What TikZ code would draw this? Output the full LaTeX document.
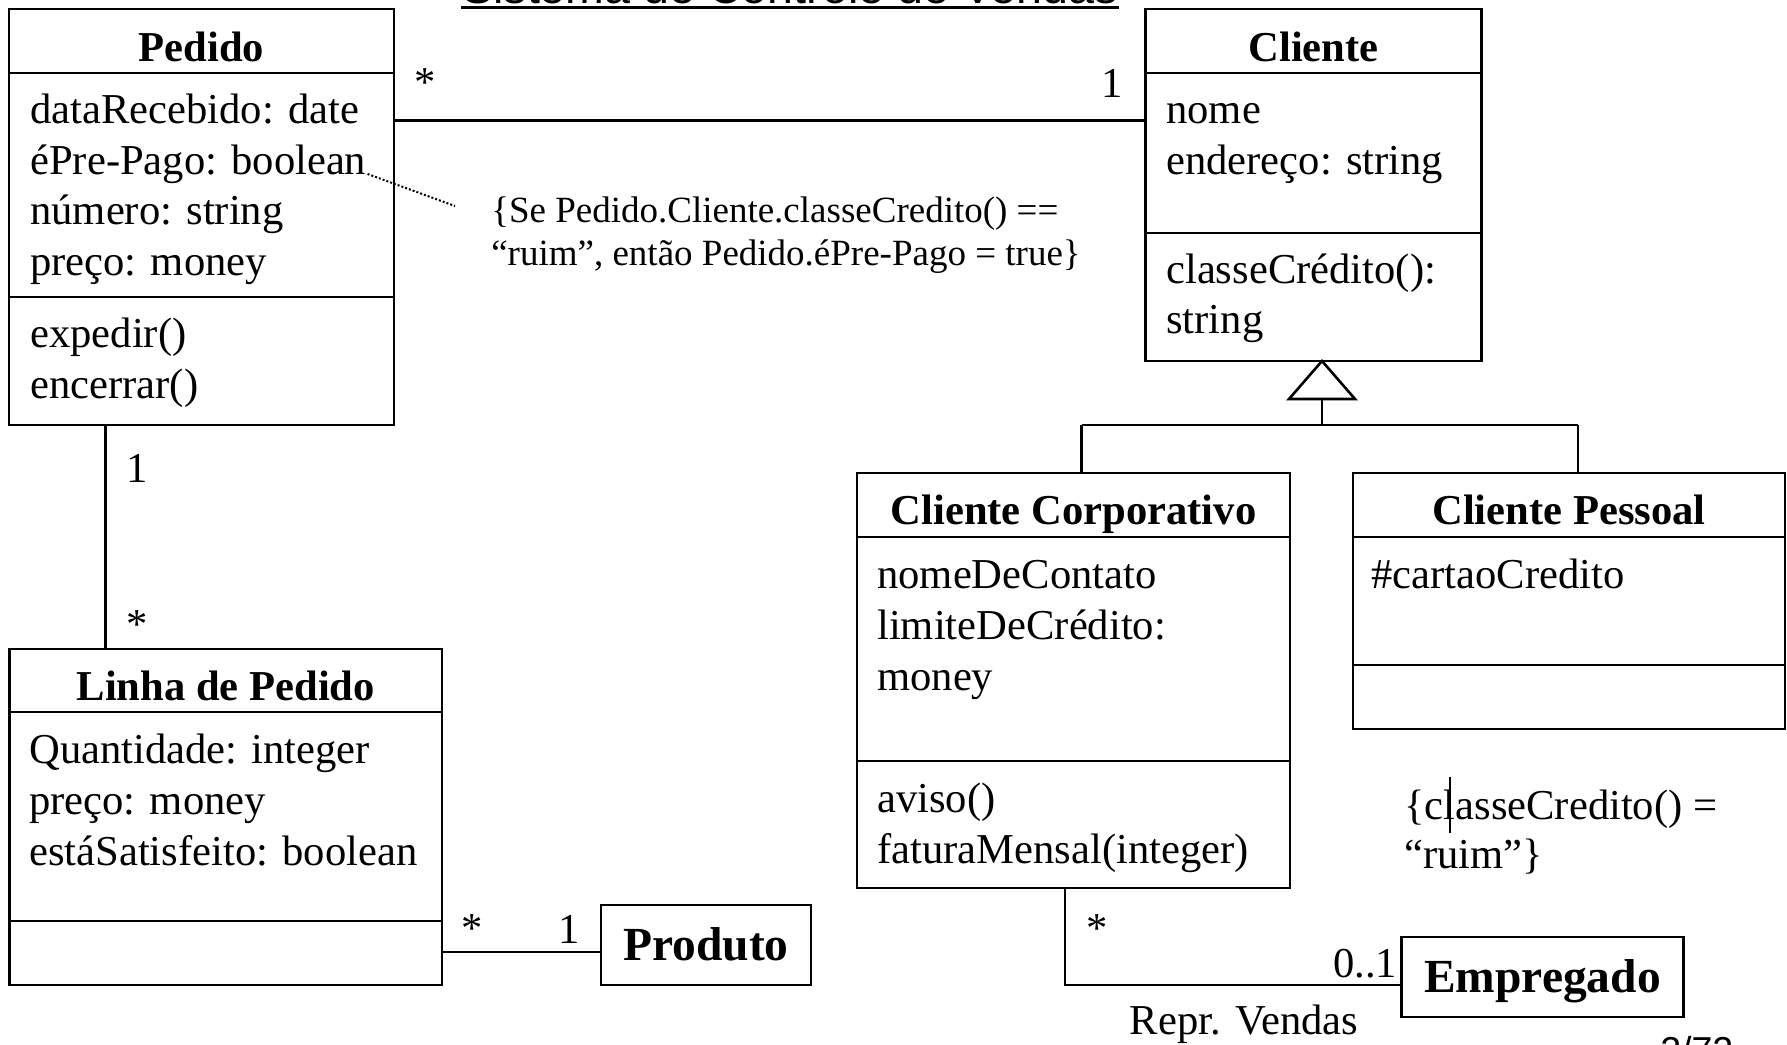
\documentclass[tikz,border=0pt]{standalone}
\usepackage{fontspec}
\setmainfont{Liberation Serif}
\newfontfamily\sansfam{Liberation Sans}
\usepackage{tikz}
\usetikzlibrary{calc}

\tikzset{
  classbox/.style={draw, rectangle, inner sep=0pt, outer sep=0pt},
  cname/.style={anchor=base, inner sep=0pt, font=\fontsize{42.6}{51}\selectfont\bfseries},
  bigname/.style={anchor=base, inner sep=0pt, font=\fontsize{47.5}{57}\selectfont\bfseries},
  attr/.style={anchor=base west, inner sep=0pt, font=\fontsize{42.6}{51}\selectfont},
  mult/.style={anchor=base, inner sep=0pt, font=\fontsize{42.6}{51}\selectfont},
  notetext/.style={anchor=base west, inner sep=0pt, font=\fontsize{37}{44}\selectfont},
}

\begin{document}
\begin{tikzpicture}[x=1pt,y=-1pt,line width=2.6pt]
	\useasboundingbox (0,0) rectangle (1787,1044);
	\fill[white] (0,0) rectangle (1787,1044);
	\clip (0,0) rectangle (1787,1044);
	% titulo
	\node[anchor=base, inner sep=0pt, font=\sansfam\fontsize{46.6}{56}\selectfont] (titulo) at (790,3.5) {Sistema de Controle de Vendas};
	\draw[line width=3.5pt] ($(titulo.base west)+(0,4.2)$) -- ($(titulo.base east)+(0,4.2)$);
	% Pedido
	\node[classbox, minimum width=385, minimum height=416] (pedido) at (201.5,217) {};
	\draw (9,73) -- (394,73);
	\draw (9,297) -- (394,297);
	\node[cname] (ped-n) at (201.5,61) {Pedido};
	\node[attr] (ped-a1) at (29,123.5) {dataRecebido: date};
	\node[attr] (ped-a2) at (29,174) {éPre-Pago: boolean};
	\node[attr] (ped-a3) at (29,224.5) {número: string};
	\node[attr] (ped-a4) at (29,275) {preço: money};
	\node[attr] (ped-m1) at (29,347) {expedir()};
	\node[attr] (ped-m2) at (29,398) {encerrar()};
	% Cliente
	\node[classbox, minimum width=336, minimum height=352] (cliente) at (1313.5,185) {};
	\draw (1145.5,73) -- (1481.5,73);
	\draw (1145.5,233) -- (1481.5,233);
	\node[cname] (cli-n) at (1313.5,61) {Cliente};
	\node[attr] (cli-a1) at (1165,123.5) {nome};
	\node[attr] (cli-a2) at (1165,174) {endereço: string};
	\node[attr] (cli-m1) at (1165,283) {classeCrédito():};
	\node[attr] (cli-m2) at (1165,333.5) {string};
	% Cliente Corporativo
	\node[classbox, minimum width=433, minimum height=415] (corp) at (1073.5,680.5) {};
	\draw (857,537) -- (1290,537);
	\draw (857,761) -- (1290,761);
	\node[cname] (corp-n) at (1073.5,524) {Cliente Corporativo};
	\node[attr] (corp-a1) at (876,588) {nomeDeContato};
	\node[attr] (corp-a2) at (876,639) {limiteDeCrédito:};
	\node[attr] (corp-a3) at (876,690) {money};
	\node[attr] (corp-m1) at (876,812) {aviso()};
	\node[attr] (corp-m2) at (876,863) {faturaMensal(integer)};
	% Cliente Pessoal
	\node[classbox, minimum width=432, minimum height=256] (pessoal) at (1569,601) {};
	\draw (1353,537) -- (1785,537);
	\draw (1353,665) -- (1785,665);
	\node[cname] (pes-n) at (1569,524) {Cliente Pessoal};
	\node[attr] (pes-a1) at (1370,588) {\#cartaoCredito};
	% Linha de Pedido
	\node[classbox, minimum width=432.5, minimum height=336] (linha) at (225.75,817) {};
	\draw (9.5,712) -- (442,712);
	\draw (9.5,921) -- (442,921);
	\node[cname] (lin-n) at (225.75,700) {Linha de Pedido};
	\node[attr] (lin-a1) at (28,763) {Quantidade: integer};
	\node[attr] (lin-a2) at (28,814) {preço: money};
	\node[attr] (lin-a3) at (28,865) {estáSatisfeito: boolean};
	% Produto e Empregado
	\node[classbox, minimum width=210, minimum height=80] (produto) at (706,945) {};
	\node[bigname] (prod-n) at (706,960) {Produto};
	\node[classbox, minimum width=282, minimum height=80] (empregado) at (1542.5,977) {};
	\node[bigname] (emp-n) at (1542.5,992) {Empregado};
	% associacoes
	\coordinate (pc) at (700,120.5);
	\draw (pedido.east |- pc) -- (cliente.west |- pc);
	\node[mult] (m-pc1) at (425,96) {*};
	\node[mult] (m-pc2) at (1112.5,97) {1};
	\coordinate (pl) at (105.5,500);
	\draw (pl |- pedido.south) -- (pl |- linha.north);
	\node[mult] (m-pl1) at (137,482) {1};
	\node[mult] (m-pl2) at (137.5,638.5) {*};
	\coordinate (lp) at (500,952);
	\draw (linha.east |- lp) -- (produto.west |- lp);
	\node[mult] (m-lp1) at (472.5,942.5) {*};
	\node[mult] (m-lp2) at (569,943) {1};
	\coordinate (rv) at (1065,985);
	\draw (rv |- corp.south) -- (rv) -- (empregado.west |- rv);
	\node[mult] (m-rv1) at (1097.5,942.5) {*};
	\node[mult, anchor=base east] (m-rv2) at (1398.5,977) {0..1};
	\node[mult] (rv-n) at (1244,1034) {Repr. Vendas};
	% generalizacao
	\coordinate (gen) at (1322,361);
	\coordinate (bus-l) at (1081.5,425);
	\coordinate (bus-r) at (1578,425);
	\draw (gen) -- ++(33,38) -- ++(-66,0) -- cycle;
	\draw ($(gen)+(0,38)$) -- (gen |- bus-l);
	\draw (bus-l) -- (bus-r);
	\draw (bus-l) -- (bus-l |- corp.north);
	\draw (bus-r) -- (bus-r |- pessoal.north);
	% restricoes
	\node[notetext] (nota1-a) at (490,222) {\{Se Pedido.Cliente.classeCredito() ==};
	\node[notetext] (nota1-b) at (490,265) {“ruim”, então Pedido.éPre-Pago = true\}};
	\coordinate (nota1-pt) at (455,206);
	\draw[line width=2pt, dash pattern=on 2pt off 2pt] (ped-a2.base east) -- (nota1-pt);
	\node[attr] (nota2-a) at (1403,819.5) {\{classeCredito() =};
	\node[attr] (nota2-b) at (1403,868.5) {“ruim”\}};
	\draw[line width=2pt] (1450,777) -- (1450,833);
	% pagina
	\node[anchor=base west, inner sep=0pt, font=\sansfam\fontsize{37.5}{45}\selectfont] (pagina) at (1659,1063) {2/72};
\end{tikzpicture}
\end{document}
